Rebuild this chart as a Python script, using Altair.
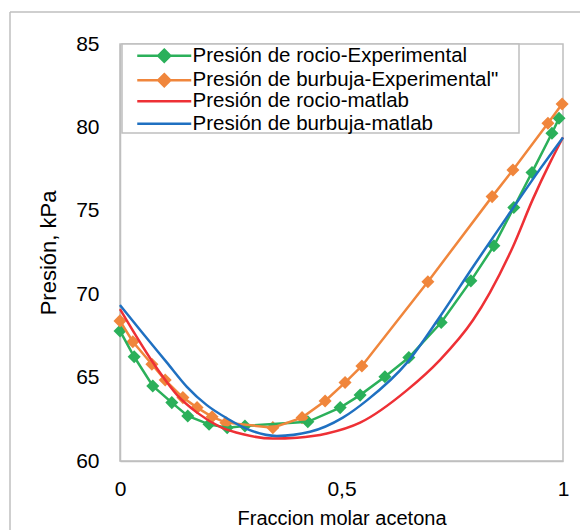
import altair as alt
import pandas as pd

# Experimental dew pressure (rocio)
x_rocio_exp = [0.0, 0.032, 0.074, 0.117, 0.153, 0.201, 0.242, 0.282, 0.424, 0.497,
               0.542, 0.598, 0.652, 0.725, 0.792, 0.844, 0.889, 0.930, 0.975, 0.991]
p_rocio_exp = [67.8, 66.25, 64.5, 63.5, 62.7, 62.2, 62.0, 62.1, 62.35, 63.2,
               63.95, 65.05, 66.2, 68.3, 70.8, 72.9, 75.2, 77.3, 79.65, 80.55]

# Experimental bubble pressure (burbuja)
x_burb_exp = [0.0, 0.029, 0.072, 0.102, 0.142, 0.174, 0.208, 0.239, 0.345, 0.411,
              0.463, 0.508, 0.546, 0.695, 0.840, 0.887, 0.966, 0.998]
p_burb_exp = [68.4, 67.15, 65.8, 64.85, 63.8, 63.2, 62.65, 62.3, 62.0, 62.6,
              63.6, 64.7, 65.7, 70.75, 75.85, 77.45, 80.25, 81.4]

# Matlab dew curve
x_rocio_mat = [0.0, 0.086, 0.129, 0.174, 0.226, 0.278, 0.345, 0.400, 0.467, 0.542,
               0.648, 0.722, 0.797, 0.835, 0.887, 0.932, 0.971, 1.0]
p_rocio_mat = [69.1, 65.45, 63.95, 62.9, 62.05, 61.6, 61.35, 61.4, 61.65, 62.3,
               64.25, 66.05, 68.45, 70.1, 72.85, 75.7, 77.9, 79.4]

# Matlab bubble curve
x_burb_mat = [0.0, 0.050, 0.106, 0.151, 0.196, 0.242, 0.293, 0.354, 0.429, 0.503,
              0.558, 0.648, 0.722, 0.797, 0.874, 0.948, 1.0]
p_burb_mat = [69.35, 67.7, 65.9, 64.45, 63.35, 62.55, 61.85, 61.5, 61.75, 62.6,
              63.65, 65.9, 68.65, 71.65, 74.65, 77.5, 79.4]

exp_names = ["Presión de rocio-Experimental", "Presión de burbuja-Experimental\""]
exp_colors = ["#2BB05A", "#F0863C"]
mat_names = ["Presión de rocio-matlab", "Presión de burbuja-matlab"]
mat_colors = ["#EE3035", "#1F70C1"]


def make_df(names, xs_list, ps_list):
    rows = []
    for name, xs, ps in zip(names, xs_list, ps_list):
        for i, (xv, pv) in enumerate(zip(xs, ps)):
            rows.append({"serie": name, "x": xv, "p": pv, "order": i})
    return pd.DataFrame(rows)


df_exp = make_df(exp_names, [x_rocio_exp, x_burb_exp], [p_rocio_exp, p_burb_exp])
df_mat = make_df(mat_names, [x_rocio_mat, x_burb_mat], [p_rocio_mat, p_burb_mat])

font = "Liberation Sans"
grey = "#BFBFBF"


def legend(y0, shape):
    return alt.Legend(
        title=None, orient="none", legendX=34, legendY=y0, direction="vertical",
        labelFont=font, labelFontSize=20.5, labelColor="#000000", labelLimit=0,
        symbolSize=100, symbolType=shape, labelOffset=18, rowPadding=1.5,
        padding=0, symbolStrokeWidth=2.5, symbolOpacity=1,
    )


x_enc = alt.X("x:Q", scale=alt.Scale(domain=[0, 1], nice=False),
              axis=alt.Axis(values=[0, 0.5, 1], title="Fraccion molar acetona",
                            labelExpr="replace(format(datum.value, ''), '.', ',')",
                            grid=False, ticks=False, labelPadding=17,
                            labelFlush=False, titlePadding=9, titleFontSize=20))
y_enc = alt.Y("p:Q", scale=alt.Scale(domain=[60, 85], nice=False, zero=False),
              axis=alt.Axis(values=[60, 65, 70, 75, 80, 85], title="Presión, kPa",
                            grid=False, ticks=False, labelPadding=21,
                            labelFlush=False, titlePadding=15, titleFontSize=22))

exp_color = alt.Color("serie:N", sort=exp_names,
                      scale=alt.Scale(domain=exp_names, range=exp_colors),
                      legend=legend(1.5, "M-5.4,0H5.4M0,-1.2L1.2,0L0,1.2L-1.2,0Z"))
mat_stroke = alt.Stroke("serie:N", sort=mat_names,
                        scale=alt.Scale(domain=mat_names, range=mat_colors),
                        legend=legend(47, "M-5.4,0H5.4"))

legend_box = alt.Chart(pd.DataFrame({"a": [0]})).mark_rect(
    fill="white", stroke=grey, strokeWidth=1.5).encode(
    x=alt.value(2), x2=alt.value(399), y=alt.value(0), y2=alt.value(89))

pts_exp = alt.Chart(df_exp).mark_point(
    shape="diamond", filled=True, size=170, opacity=1).encode(
    x=x_enc, y=y_enc, color=exp_color)

lines_exp = alt.Chart(df_exp).mark_line(strokeWidth=2.5).encode(
    x=x_enc, y=y_enc, color=exp_color, order="order:Q")

lines_mat = alt.Chart(df_mat).mark_line(
    strokeWidth=2.5, interpolate="monotone").encode(
    x=x_enc, y=y_enc, stroke=mat_stroke, order="order:Q")

frame_top = alt.Chart(pd.DataFrame({"a": [0]})).mark_rule(
    color=grey, strokeWidth=1.5).encode(
    x=alt.value(-110), x2=alt.value(600), y=alt.value(-32))
frame_left = alt.Chart(pd.DataFrame({"a": [0]})).mark_rule(
    color=grey, strokeWidth=1.5).encode(
    x=alt.value(-110), y=alt.value(-32), y2=alt.value(600))

chart = alt.layer(
    frame_top, frame_left, pts_exp, lines_exp, lines_mat, legend_box
).properties(
    width=443, height=417,
    autosize=alt.AutoSizeParams(type="none"),
    padding={"left": 112, "top": 36, "right": 17, "bottom": 69},
).configure_view(
    stroke=grey, strokeWidth=1.5
).configure_axis(
    labelFont=font, titleFont=font, labelFontSize=21, titleFontSize=20,
    labelColor="#000000", titleColor="#000000", titleFontWeight="normal",
    domainColor=grey, domainWidth=1.5
)

chart.save("out.html", embed_options={"renderer": "svg", "actions": False})
